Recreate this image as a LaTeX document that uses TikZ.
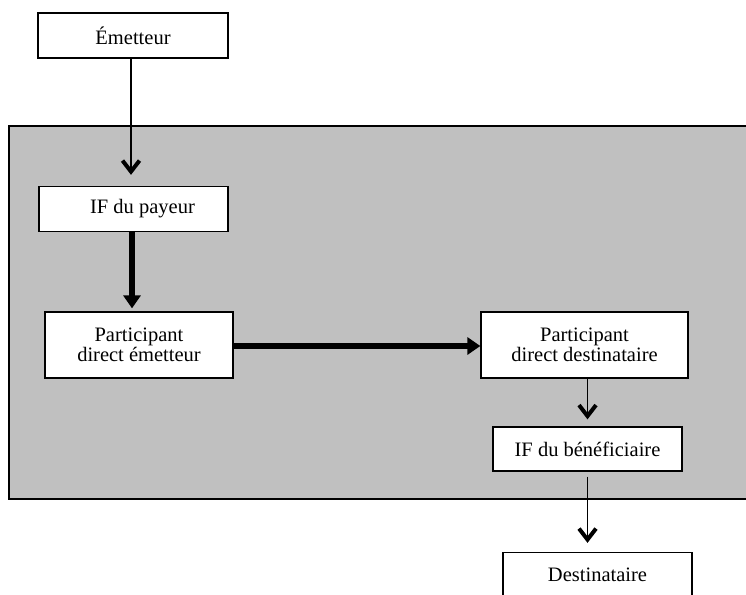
\documentclass[tikz,border=0pt]{standalone}
\usepackage{fontspec}
\setmainfont{Liberation Serif}
\usetikzlibrary{arrows.meta}

\definecolor{fond}{RGB}{192,192,192}

\tikzset{boite/.style = {draw, fill=white, line width=1.3pt,
                         minimum width=#1, minimum height=45pt,
                         inner sep=0pt, align=center,
                         font=\fontsize{20.5}{20}\selectfont},
         boite/.default=189pt
        }
\tikzset{fl/.style={line width=1.6pt, -{Straight Barb[length=11pt,width=17pt,line width=4pt]}}}
\tikzset{grfl/.style={line width=6pt, -{Triangle[length=13pt,width=17pt]}}}

\begin{document}
\begin{tikzpicture}[x=1pt,y=-1pt]
\useasboundingbox (0,0) rectangle (746,594);
% zone grise
\draw[fill=fond, line width=1.3pt] (9,126) rectangle (760,499);

\node[boite=190pt] (emet) at (133,35.5) {Émetteur};
\node[boite] (ifp) at (133.5,209) {\hspace{18pt}IF du payeur};
\node[boite=188pt, minimum height=66pt] (pde) at (139,345) {Participant\\direct émetteur};
\node[boite=207pt, minimum height=66pt] (pdd) at (584.5,345) {Participant\\direct destinataire};
\node[boite, minimum height=44pt] (ifb) at (587.5,449) {IF du bénéficiaire};
\node[boite] (dest) at (597.5,575) {Destinataire};

\draw[fl, shorten >=11pt] ([xshift=-2pt]emet.south) -- ([xshift=-2pt]emet.south |- ifp.north);
\draw[grfl, shorten >=3pt] ([xshift=-1.5pt]ifp.south) -- ([xshift=-1.5pt]ifp.south |- pde.north);
\draw[grfl] ([yshift=-1pt]pde.east) -- ([yshift=-1pt]pde.east -| pdd.west);
\draw[fl, shorten >=7pt] (ifb.north |- pdd.south) -- (ifb.north);
\draw[fl, shorten <=5pt, shorten >=9pt] (ifb.south) -- (ifb.south |- dest.north);
\end{tikzpicture}
\end{document}
